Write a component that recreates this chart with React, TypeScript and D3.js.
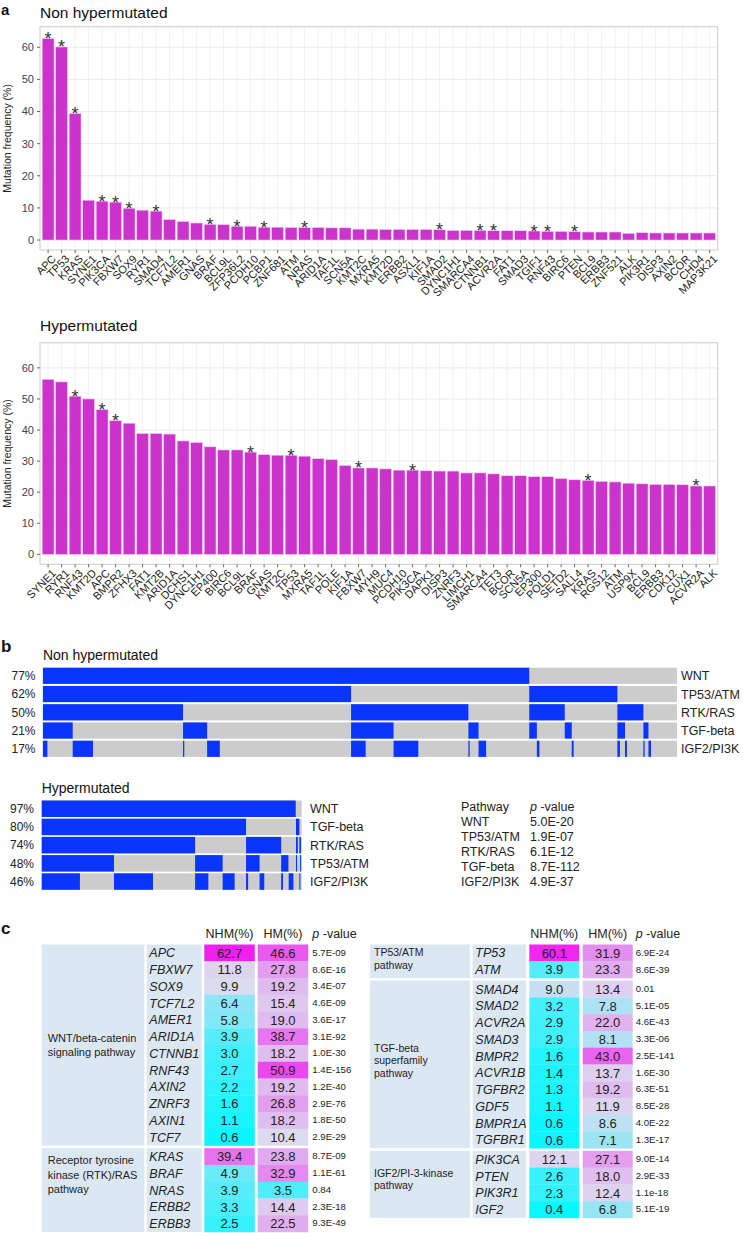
import React from "react";
import * as d3 from "d3";

const FONT = "'Liberation Sans', Arial, Helvetica, sans-serif";

// ---------- Panel a: non hypermutated ----------
const nhGenes = ["APC","TP53","KRAS","SYNE1","PIK3CA","FBXW7","SOX9","RYR1","SMAD4","TCF7L2","AMER1","GNAS","BRAF","BCL9L","ZFP36L2","PCDH10","PCBP1","ZNF681","ATM","NRAS","ARID1A","TAF1L","SCN5A","KMT2C","MXRA5","KMT2D","ERBB2","ASXL1","KIF1A","SMAD2","DYNC1H1","SMARCA4","CTNNB1","ACVR2A","FAT1","SMAD3","TGIF1","RNF43","BIRC6","PTEN","BCL9","ERBB3","ZNF521","ALK","PIK3R1","DISP3","AXIN2","BCOR","CHD4","MAP3K21"];
const nhValues = [62.7,60.1,39.4,12.4,12.1,11.8,9.9,9.3,9.0,6.4,5.8,5.3,4.9,4.8,4.3,4.3,4.0,4.0,3.9,3.9,3.9,3.8,3.8,3.4,3.4,3.3,3.3,3.3,3.3,3.2,3.0,3.0,3.0,2.9,2.9,2.9,2.8,2.7,2.7,2.6,2.5,2.5,2.5,2.1,2.3,2.2,2.2,2.2,2.2,2.2];
const nhStars = ["APC","TP53","KRAS","PIK3CA","FBXW7","SOX9","SMAD4","BRAF","ZFP36L2","PCBP1","NRAS","SMAD2","CTNNB1","ACVR2A","TGIF1","RNF43","PTEN"];

// ---------- Panel a: hypermutated ----------
const hmGenes = ["SYNE1","RYR1","RNF43","KMT2D","APC","BMPR2","ZFHX3","FAT1","KMT2B","ARID1A","DCHS1","DYNC1H1","EP400","BIRC6","BCL9L","BRAF","GNAS","KMT2C","TP53","MXRA5","TAF1L","POLE","KIF1A","FBXW7","MYH9","MUC4","PCDH10","PIK3CA","DAPK1","DISP3","ZNRF3","LIMCH1","SMARCA4","TET3","BCOR","SCN5A","EP300","POLD1","SETD2","SALL4","KRAS","RGS12","ATM","USP9X","BCL9","ERBB3","CDK12","CUX1","ACVR2A","ALK"];
const hmValues = [56.3,55.5,50.9,50.0,46.6,43.0,42.2,38.9,38.9,38.7,36.5,36.0,34.6,33.6,33.6,32.9,32.1,31.9,31.9,31.6,30.8,30.5,28.6,27.8,27.8,27.5,27.1,27.1,26.9,26.8,26.8,26.2,26.2,25.9,25.3,25.3,25.0,25.0,24.4,24.0,23.8,23.5,23.3,22.9,22.7,22.5,22.5,22.4,22.0,22.0];
const hmStars = ["RNF43","APC","BMPR2","BRAF","TP53","FBXW7","PIK3CA","KRAS","ACVR2A"];

const yTicks = [0, 10, 20, 30, 40, 50, 60];

// ---------- Panel b ----------
const nhbLabels = ["WNT","TP53/ATM","RTK/RAS","TGF-beta","IGF2/PI3K"];
const nhbPercents = ["77%","62%","50%","21%","17%"];
const nhbSegments: number[][][] = [
  [[0, 0.767]],
  [[0, 0.486], [0.767, 0.906]],
  [[0, 0.221], [0.486, 0.671], [0.767, 0.823], [0.906, 0.947]],
  [[0, 0.047], [0.221, 0.259], [0.486, 0.553], [0.671, 0.687], [0.767, 0.779], [0.823, 0.834], [0.906, 0.918], [0.947, 0.955]],
  [[0, 0.007], [0.047, 0.079], [0.221, 0.223], [0.259, 0.279], [0.486, 0.509], [0.553, 0.592], [0.671, 0.673], [0.687, 0.699], [0.779, 0.783], [0.834, 0.837], [0.906, 0.910], [0.918, 0.921], [0.947, 0.949], [0.955, 0.959]],
];
const hmbLabels = ["WNT","TGF-beta","RTK/RAS","TP53/ATM","IGF2/PI3K"];
const hmbPercents = ["97%","80%","74%","48%","46%"];
const hmbSegments: number[][][] = [
  [[0, 0.977]],
  [[0, 0.786], [0.978, 0.991]],
  [[0, 0.590], [0.786, 0.921], [0.978, 0.985], [0.991, 0.997]],
  [[0, 0.278], [0.590, 0.696], [0.786, 0.838], [0.921, 0.949], [0.978, 0.982], [0.994, 0.997]],
  [[0, 0.147], [0.278, 0.428], [0.590, 0.641], [0.696, 0.742], [0.786, 0.794], [0.838, 0.856], [0.921, 0.928], [0.950, 0.968], [0.991, 0.994]],
];
const ptPathways = ["WNT","TP53/ATM","RTK/RAS","TGF-beta","IGF2/PI3K"];
const ptPvalues = ["5.0E-20","1.9E-07","6.1E-12","8.7E-112","4.9E-37"];

// ---------- Panel c ----------
const leftGroupLabels = [["WNT/beta-catenin","signaling pathway"],["Receptor tyrosine","kinase (RTK)/RAS","pathway"]];
const leftGroupSizes = [12, 5];
const leftGenes = ["APC","FBXW7","SOX9","TCF7L2","AMER1","ARID1A","CTNNB1","RNF43","AXIN2","ZNRF3","AXIN1","TCF7","KRAS","BRAF","NRAS","ERBB2","ERBB3"];
const leftNhm = [62.7,11.8,9.9,6.4,5.8,3.9,3.0,2.7,2.2,1.6,1.1,0.6,39.4,4.9,3.9,3.3,2.5];
const leftHm = [46.6,27.8,19.2,15.4,19.0,38.7,18.2,50.9,19.2,26.8,18.2,10.4,23.8,32.9,3.5,14.4,22.5];
const leftP = ["5.7E-09","8.6E-16","3.4E-07","4.6E-09","3.6E-17","3.1E-92","1.0E-30","1.4E-156","1.2E-40","2.9E-76","1.8E-50","2.9E-29","8.7E-09","1.1E-61","0.84","2.3E-18","9.3E-49"];

const rightGroupLabels = [["TP53/ATM","pathway"],["TGF-beta","superfamily","pathway"],["IGF2/PI-3-kinase","pathway"]];
const rightGroupSizes = [2, 10, 4];
const rightGenes = ["TP53","ATM","SMAD4","SMAD2","ACVR2A","SMAD3","BMPR2","ACVR1B","TGFBR2","GDF5","BMPR1A","TGFBR1","PIK3CA","PTEN","PIK3R1","IGF2"];
const rightNhm = [60.1,3.9,9.0,3.2,2.9,2.9,1.6,1.4,1.3,1.1,0.6,0.6,12.1,2.6,2.3,0.4];
const rightHm = [31.9,23.3,13.4,7.8,22.0,8.1,43.0,13.7,19.2,11.9,8.6,7.1,27.1,18.0,12.4,6.8];
const rightP = ["6.9E-24","8.6E-39","0.01","5.1E-05","4.6E-43","3.3E-06","2.5E-141","1.6E-30","6.3E-51","8.5E-28","4.0E-22","1.3E-17","9.0E-14","2.9E-33","1.1e-18","5.1E-19"];

const BAR_FILL = "#cc33cc";
const BLUE = "#0a35ff";
const GRAY = "#cccccc";
const PALE = "#dbe8f4";

const cellColor = d3.scaleLinear<string>()
  .domain([0, 10, 62])
  .range(["#00f8ff", "#dcdcf0", "#f020f0"])
  .clamp(true);

function BarChart(props: any) {
  const { genes, values, stars, title, titleY, top, bottom, yDomain } = props;
  const left = 40, right = 717.7;
  const x = d3.scalePoint<string>().domain(genes).range([left, right]).padding(0.6);
  const bw = x.step() * 0.88;
  const y = d3.scaleLinear().domain(yDomain).range([bottom, top]);
  const starSet = new Set(stars);
  return (
    <g>
      <text x={40} y={titleY} fontSize={15.5} fill="#111">{title}</text>
      <rect x={left} y={top} width={right - left} height={bottom - top} fill="#fff" />
      {yTicks.map((t) => (
        <line key={"h" + t} x1={left} x2={right} y1={y(t)} y2={y(t)} stroke="#e8e8e8" strokeWidth={0.9} />
      ))}
      {genes.map((g: string) => (
        <line key={"v" + g} x1={x(g)} x2={x(g)} y1={top} y2={bottom} stroke="#ececec" strokeWidth={0.8} />
      ))}
      {genes.map((g: string, i: number) => (
        <rect key={"b" + g} x={(x(g) as number) - bw / 2} y={y(values[i])} width={bw}
          height={y(0) - y(values[i])} fill={BAR_FILL} stroke="#f4d0f4" strokeWidth={0.6} />
      ))}
      {genes.map((g: string, i: number) =>
        starSet.has(g) ? (
          <text key={"s" + g} x={x(g)} y={y(values[i]) + 6.5} textAnchor="middle" fontSize={18} fill="#333">*</text>
        ) : null
      )}
      <rect x={left} y={top} width={right - left} height={bottom - top} fill="none" stroke="#d4d4d4" strokeWidth={1.2} />
      {yTicks.map((t) => (
        <g key={"yt" + t}>
          <line x1={left - 3} x2={left} y1={y(t)} y2={y(t)} stroke="#444" strokeWidth={0.8} />
          <text x={left - 6} y={y(t)} dy="0.35em" textAnchor="end" fontSize={11} fill="#444">{t}</text>
        </g>
      ))}
      {genes.map((g: string) => (
        <g key={"xt" + g}>
          <line x1={x(g)} x2={x(g)} y1={bottom} y2={bottom + 3} stroke="#444" strokeWidth={0.8} />
          <text transform={`translate(${(x(g) as number) + 3},${bottom + 4}) rotate(-45)`} dy="0.72em"
            textAnchor="end" fontSize={11} fill="#222">{g}</text>
        </g>
      ))}
      <text transform={`translate(10.5,${(top + bottom) / 2}) rotate(-90)`} textAnchor="middle" fontSize={10.5} fill="#222">
        Mutation frequency (%)
      </text>
    </g>
  );
}

function Oncoprint(props: any) {
  const { labels, percents, segments, x0, x1, top, step, h, labelX, pctX, title, titleY } = props;
  const x = d3.scaleLinear().domain([0, 1]).range([x0, x1]);
  return (
    <g>
      <text x={x0} y={titleY} fontSize={14} fill="#111">{title}</text>
      {labels.map((lab: string, i: number) => {
        const yy = top + i * step;
        return (
          <g key={lab}>
            <rect x={x0} y={yy} width={x1 - x0} height={h} fill={GRAY} />
            {segments[i].map((s: number[], j: number) => (
              <rect key={j} x={x(s[0])} y={yy} width={Math.max(1, x(s[1]) - x(s[0]))} height={h} fill={BLUE} />
            ))}
            <text x={pctX} y={yy + h / 2} dy="0.36em" textAnchor="end" fontSize={12} fill="#222">{percents[i]}</text>
            <text x={labelX} y={yy + h / 2} dy="0.36em" fontSize={12.5} fill="#222">{lab}</text>
          </g>
        );
      })}
    </g>
  );
}

function Table(props: any) {
  const { cols, groupSizes, groupLabels, labelOffsets, lineGap, labelSize, genes, nhm, hm, pv, top, rowH, gap } = props;
  const rows: any[] = [];
  const groups: any[] = [];
  let yy = top;
  let idx = 0;
  groupSizes.forEach((n: number, gi: number) => {
    groups.push({ y: yy, h: n * rowH, gi });
    for (let k = 0; k < n; k++) {
      rows.push({ y: yy + k * rowH, i: idx });
      idx++;
    }
    yy += n * rowH + gap;
  });
  return (
    <g>
      {groups.map((g) => (
        <g key={"g" + g.gi}>
          <rect x={cols.path} y={g.y} width={cols.pathW} height={g.h} fill={PALE} />
          <rect x={cols.gene} y={g.y} width={cols.geneW} height={g.h} fill={PALE} />
          {groupLabels[g.gi].map((ln: string, li: number) => (
            <text key={li} x={cols.path + cols.labelPad} y={g.y + labelOffsets[g.gi] + li * lineGap}
              fontSize={labelSize} fill="#222">{ln}</text>
          ))}
        </g>
      ))}
      {rows.map((r) => (
        <g key={"r" + r.i}>
          <rect x={cols.nhm} y={r.y} width={cols.cellW} height={rowH + 0.3} fill={cellColor(nhm[r.i])} />
          <rect x={cols.hm} y={r.y} width={cols.cellW} height={rowH + 0.3} fill={cellColor(hm[r.i])} />
          <text x={cols.gene + 2.6} y={r.y + rowH / 2} dy="0.36em" fontSize={12.5} fontStyle="italic" fill="#222">{genes[r.i]}</text>
          <text x={cols.nhm + cols.cellW / 2} y={r.y + rowH / 2} dy="0.37em" textAnchor="middle" fontSize={13} fill="#222">{nhm[r.i].toFixed(1)}</text>
          <text x={cols.hm + cols.cellW / 2} y={r.y + rowH / 2} dy="0.37em" textAnchor="middle" fontSize={13} fill="#222">{hm[r.i].toFixed(1)}</text>
          <text x={cols.p} y={r.y + rowH / 2} dy="0.3em" fontSize={9.6} fill="#222">{pv[r.i]}</text>
        </g>
      ))}
      <text x={cols.nhm + cols.cellW / 2} y={top - 6.5} textAnchor="middle" fontSize={12.5} fill="#222">NHM(%)</text>
      <text x={cols.hm + cols.cellW / 2} y={top - 6.5} textAnchor="middle" fontSize={12.5} fill="#222">HM(%)</text>
      <text x={cols.p} y={top - 6.5} fontSize={12.5} fill="#222"><tspan fontStyle="italic">p</tspan> -value</text>
    </g>
  );
}

export default function App() {
  return (
    <svg width={743} height={1233} viewBox="0 0 743 1233"
      style={{ position: "absolute", left: 0, top: 0, display: "block", background: "#fff" }}
      fontFamily={FONT}>
      <rect x={0} y={0} width={743} height={1233} fill="#fff" />
      <text x={1} y={14.5} fontSize={15} fontWeight="bold" fill="#111">a</text>
      <BarChart genes={nhGenes} values={nhValues} stars={nhStars} title="Non hypermutated" titleY={17.5}
        top={26.7} bottom={250} yDomain={[-3.1, 66.4]} />
      <BarChart genes={hmGenes} values={hmValues} stars={hmStars} title="Hypermutated" titleY={331}
        top={342.7} bottom={564.3} yDomain={[-3.2, 68.1]} />

      <text x={1} y={652} fontSize={17} fontWeight="bold" fill="#111">b</text>
      <Oncoprint labels={nhbLabels} percents={nhbPercents} segments={nhbSegments} x0={42.9} x1={677}
        top={667.7} step={18.25} h={16.2} labelX={681} pctX={35.5} title="Non hypermutated" titleY={659.5} />
      <Oncoprint labels={hmbLabels} percents={hmbPercents} segments={hmbSegments} x0={41.7} x1={301.7}
        top={800.5} step={18.2} h={16.5} labelX={310} pctX={34} title="Hypermutated" titleY={792.5} />
      <text x={461} y={810.5} fontSize={12.5} fill="#222">Pathway</text>
      <text x={530} y={810.5} fontSize={12.5} fill="#222"><tspan fontStyle="italic">p</tspan> -value</text>
      {ptPathways.map((p, i) => (
        <g key={p}>
          <text x={461} y={826 + i * 15} fontSize={12.5} fill="#222">{p}</text>
          <text x={530} y={826 + i * 15} fontSize={12.5} fill="#222">{ptPvalues[i]}</text>
        </g>
      ))}

      <text x={1} y={933.5} fontSize={17} fontWeight="bold" fill="#111">c</text>
      <Table cols={{ path: 41.7, pathW: 102.6, gene: 146.7, geneW: 55, nhm: 204.3, hm: 257.7, cellW: 50.5, p: 312.3, labelPad: 6 }}
        groupSizes={leftGroupSizes} groupLabels={leftGroupLabels} labelOffsets={[97, 15.8]} lineGap={14.5} labelSize={11}
        genes={leftGenes} nhm={leftNhm} hm={leftHm} pv={leftP} top={944.5} rowH={16.75} gap={2.7} />
      <Table cols={{ path: 370, pathW: 100, gene: 472.7, geneW: 53.3, nhm: 529.3, hm: 582.7, cellW: 50, p: 635.7, labelPad: 4 }}
        groupSizes={rightGroupSizes} groupLabels={rightGroupLabels} labelOffsets={[11.7, 71, 25.8]} lineGap={12.6} labelSize={10.5}
        genes={rightGenes} nhm={rightNhm} hm={rightHm} pv={rightP} top={944.5} rowH={16.75} gap={2.7} />
    </svg>
  );
}
